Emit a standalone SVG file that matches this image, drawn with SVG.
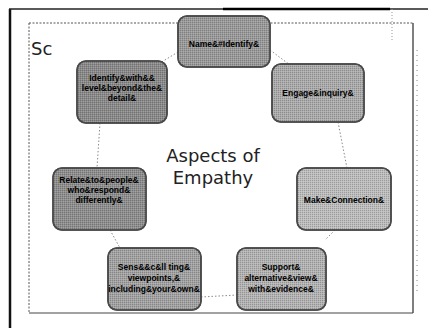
<svg xmlns="http://www.w3.org/2000/svg" width="428" height="328" viewBox="0 0 428 328">
<style>
.node rect{stroke:#4a4a4a;stroke-width:1.5}
.lbl{font-family:"Liberation Sans",Arial,sans-serif;font-weight:bold;font-size:8.5px;fill:#000;text-anchor:middle}
.conn line{stroke:#8a8a8a;stroke-width:1;stroke-dasharray:1.5,2;fill:none}
.title{font-family:"DejaVu Sans","Liberation Sans",sans-serif;font-size:18px;fill:#222;text-anchor:middle}
</style>
<defs>
<pattern id="dith" width="2" height="2" patternUnits="userSpaceOnUse">
<rect x="0" y="0" width="1" height="1" fill="#000" fill-opacity="0.18"/>
<rect x="1" y="1" width="1" height="1" fill="#fff" fill-opacity="0.18"/>
</pattern>
</defs>
<rect width="428" height="328" fill="#fff"/>
<g id="frame">
<line x1="10" y1="9" x2="10" y2="328" stroke="#111" stroke-width="2.5"/>
<line x1="9" y1="9" x2="428" y2="9" stroke="#222" stroke-width="1.5"/>
<line x1="223" y1="9" x2="390" y2="9" stroke="#000" stroke-width="2.5"/>
<line x1="29" y1="23" x2="413" y2="23" stroke="#555" stroke-width="1" stroke-dasharray="2,1.5"/>
<line x1="29" y1="23" x2="29" y2="313" stroke="#555" stroke-width="1" stroke-dasharray="2,1.5"/>
<line x1="413" y1="23" x2="413" y2="313" stroke="#555" stroke-width="1.5"/>
<line x1="29" y1="313" x2="413" y2="313" stroke="#444" stroke-width="1"/>
<line x1="417" y1="50" x2="417" y2="295" stroke="#888" stroke-width="1" stroke-dasharray="1,4"/>
<line x1="392" y1="9" x2="392" y2="40" stroke="#999" stroke-width="1" stroke-dasharray="1,2"/>
<text x="31" y="55" font-family="DejaVu Sans,Liberation Sans,sans-serif" font-size="18" fill="#222">Sc</text>
</g>
<g class="conn" id="connectors">
<line x1="178" y1="52" x2="160" y2="63"/>
<line x1="270" y1="50" x2="290" y2="65"/>
<line x1="100" y1="123" x2="97" y2="168"/>
<line x1="338" y1="122" x2="347" y2="168"/>
<line x1="110" y1="230" x2="120" y2="248"/>
<line x1="335" y1="230" x2="325" y2="240"/>
<line x1="201" y1="297" x2="237" y2="295"/>
</g>
<g id="n1" class="node"><rect x="178" y="16" width="92" height="51" rx="9" fill="#9a9a9a"/><rect x="178" y="16" width="92" height="51" rx="9" fill="url(#dith)" stroke="none"/><text class="lbl" x="224" y="47">Name&amp;#Identify&amp;</text></g>
<g id="n2" class="node"><rect x="77" y="61" width="90" height="62" rx="9" fill="#8a8a8a"/><rect x="77" y="61" width="90" height="62" rx="9" fill="url(#dith)" stroke="none"/><text class="lbl" x="122" y="81">Identify&amp;with&amp;&amp;</text><text class="lbl" x="122" y="91">level&amp;beyond&amp;the&amp;</text><text class="lbl" x="122" y="101">detail&amp;</text></g>
<g id="n3" class="node"><rect x="272" y="64" width="92" height="58" rx="9" fill="#ababab"/><rect x="272" y="64" width="92" height="58" rx="9" fill="url(#dith)" stroke="none"/><text class="lbl" x="318" y="96">Engage&amp;inquiry&amp;</text></g>
<g id="n4" class="node"><rect x="53" y="168" width="93" height="62" rx="9" fill="#8e8e8e"/><rect x="53" y="168" width="93" height="62" rx="9" fill="url(#dith)" stroke="none"/><text class="lbl" x="99" y="183">Relate&amp;to&amp;people&amp;</text><text class="lbl" x="99" y="193">who&amp;respond&amp;</text><text class="lbl" x="99" y="203">differently&amp;</text></g>
<g id="n5" class="node"><rect x="297" y="168" width="94" height="62" rx="9" fill="#bdbdbd"/><rect x="297" y="168" width="94" height="62" rx="9" fill="url(#dith)" stroke="none"/><text class="lbl" x="344" y="203">Make&amp;Connection&amp;</text></g>
<g id="n6" class="node"><rect x="108" y="248" width="93" height="62" rx="9" fill="#a2a2a2"/><rect x="108" y="248" width="93" height="62" rx="9" fill="url(#dith)" stroke="none"/><text class="lbl" x="154" y="270">Sens&amp;&amp;c&amp;ll ting&amp;</text><text class="lbl" x="154" y="281">viewpoints,&amp;</text><text class="lbl" x="154" y="292">including&amp;your&amp;own&amp;</text></g>
<g id="n7" class="node"><rect x="237" y="248" width="89" height="62" rx="9" fill="#b3b3b3"/><rect x="237" y="248" width="89" height="62" rx="9" fill="url(#dith)" stroke="none"/><text class="lbl" x="281" y="270">Support&amp;</text><text class="lbl" x="281" y="281">alternative&amp;view&amp;</text><text class="lbl" x="281" y="292">with&amp;evidence&amp;</text></g>
<g id="center"><text class="title" x="213" y="162">Aspects of</text><text class="title" x="213" y="184">Empathy</text></g>
</svg>
